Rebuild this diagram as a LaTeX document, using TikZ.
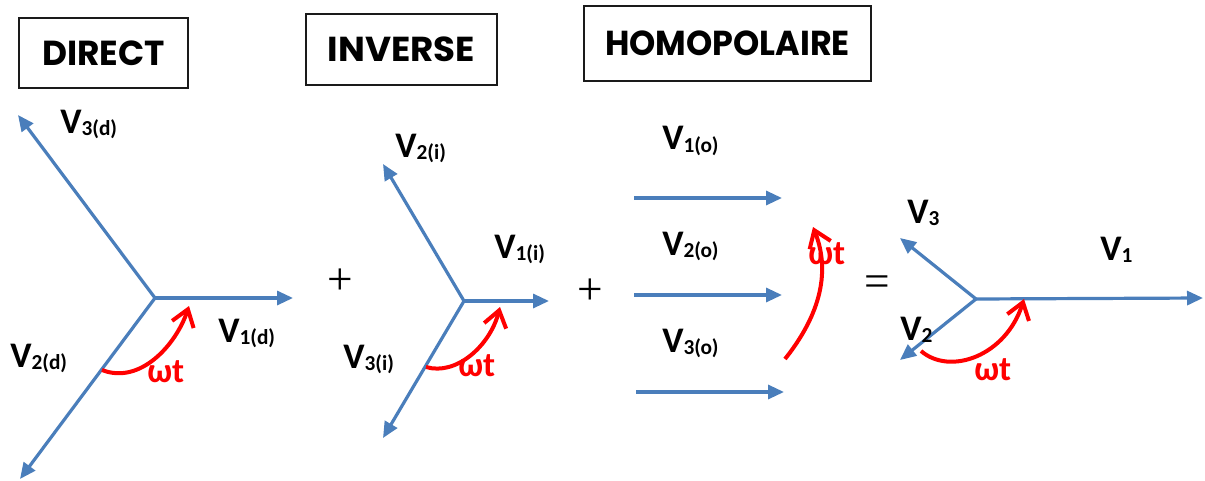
\documentclass[tikz,border=0pt]{standalone}
\usepackage{fontspec}
\setmainfont{Carlito}
\newfontfamily\titlefont{Poppins}
\newfontfamily\opfont{Liberation Serif}
\usetikzlibrary{arrows.meta}
\definecolor{vblue}{HTML}{4A7EBB}
\definecolor{boxline}{HTML}{1A1A1A}
\newcommand{\Vlab}[1]{{\fontsize{27}{27}\selectfont\bfseries V}\raisebox{-1.8pt}{\fontsize{16}{16}\selectfont\bfseries #1}}
\newcommand{\Ttxt}[2]{\resizebox{#1}{18.5pt}{\titlefont\bfseries #2}}
\begin{document}
\begin{tikzpicture}[x=0.75pt,y=-0.75pt,
  phasor/.style={draw=vblue, line width=2.4pt, -{Triangle[length=12pt,width=10.5pt]}},
  rot/.style={draw=red, line width=3pt, -{Straight Barb[length=12pt,width=17pt]}},
  titlebox/.style={draw=boxline, line width=0.9pt, inner sep=0},
  lab/.style={anchor=base west, inner sep=0},
  omega/.style={anchor=base west, inner sep=0, text=red, font=\bfseries\fontsize{26}{26}\selectfont},
  op/.style={inner sep=0, font=\opfont\fontsize{34}{34}\selectfont}]
\useasboundingbox (0,0) rectangle (1205,481);

% title boxes
\node[titlebox, minimum width=126.75pt, minimum height=52.5pt] (tdirect) at (103.5,53) {\Ttxt{92pt}{DIRECT}};
\node[titlebox, minimum width=143.25pt, minimum height=53.25pt] (tinverse) at (401.5,49.5) {\Ttxt{110.5pt}{INVERSE}};
\node[titlebox, minimum width=215.25pt, minimum height=56.25pt] (thomo) at (727.5,43.5) {\Ttxt{183.5pt}{HOMOPOLAIRE}};

% direct system
\coordinate (od) at (155,298);
\coordinate (d1) at (293,298);
\coordinate (d2) at (20,479);
\coordinate (d3) at (18,115);
\draw[phasor] (od) -- (d1);
\draw[phasor] (od) -- (d2);
\draw[phasor] (od) -- (d3);
\node[lab] (ld1) at (218,342) {\Vlab{1(d)}};
\node[lab] (ld2) at (10,367) {\Vlab{2(d)}};
\node[lab] (ld3) at (60,133) {\Vlab{3(d)}};
\coordinate (wd0) at (102,370);
\coordinate (wd1) at (189,306);
\draw[rot] (wd0) .. controls (140,385) and (176,345) .. (wd1);
\node[omega] (wtd) at (147,382) {ωt};

\node[op] (plus1) at (340,282) {+};

% inverse system
\coordinate (oi) at (464,301);
\coordinate (i1) at (549,301);
\coordinate (i2) at (383,164);
\coordinate (i3) at (383,438);
\draw[phasor] (oi) -- (i1);
\draw[phasor] (oi) -- (i2);
\draw[phasor] (oi) -- (i3);
\node[lab] (li1) at (494,258) {\Vlab{1(i)}};
\node[lab] (li2) at (395,157) {\Vlab{2(i)}};
\node[lab] (li3) at (343,368) {\Vlab{3(i)}};
\coordinate (wi0) at (426,367);
\coordinate (wi1) at (500,307);
\draw[rot] (wi0) .. controls (456,376) and (490,346) .. (wi1);
\node[omega] (wti) at (458,376) {ωt};

\node[op] (plus2) at (590,292) {+};

% homopolar system
\coordinate (h1a) at (634,198);
\coordinate (h1b) at (782,198);
\coordinate (h2a) at (634,295);
\coordinate (h2b) at (782,295);
\coordinate (h3a) at (636,392);
\coordinate (h3b) at (784,392);
\draw[phasor] (h1a) -- (h1b);
\draw[phasor] (h2a) -- (h2b);
\draw[phasor] (h3a) -- (h3b);
\node[lab] (lh1) at (662,150) {\Vlab{1(o)}};
\node[lab] (lh2) at (662,255) {\Vlab{2(o)}};
\node[lab] (lh3) at (662,352) {\Vlab{3(o)}};
\coordinate (wh0) at (785,359);
\coordinate (wh1) at (813,227);
\draw[rot] (wh0) .. controls (812,325) and (834,280) .. (wh1);
\node[omega] (wth) at (808,264) {ωt};

\node[op] (eq) at (877,286) {=};

% resulting system
\coordinate (or) at (976,299);
\coordinate (r1) at (1203,298);
\coordinate (r2) at (900,360);
\coordinate (r3) at (900,238);
\draw[phasor] (or) -- (r1);
\draw[phasor] (or) -- (r2);
\draw[phasor] (or) -- (r3);
\node[lab] (lr1) at (1100,260) {\Vlab{1}};
\node[lab] (lr2) at (900,340) {\Vlab{2}};
\node[lab] (lr3) at (907,223) {\Vlab{3}};
\coordinate (wr0) at (921,351);
\coordinate (wr1) at (1024,299);
\draw[rot] (wr0) .. controls (950,376) and (1006,356) .. (wr1);
\node[omega] (wtr) at (974,380) {ωt};
\end{tikzpicture}
\end{document}
